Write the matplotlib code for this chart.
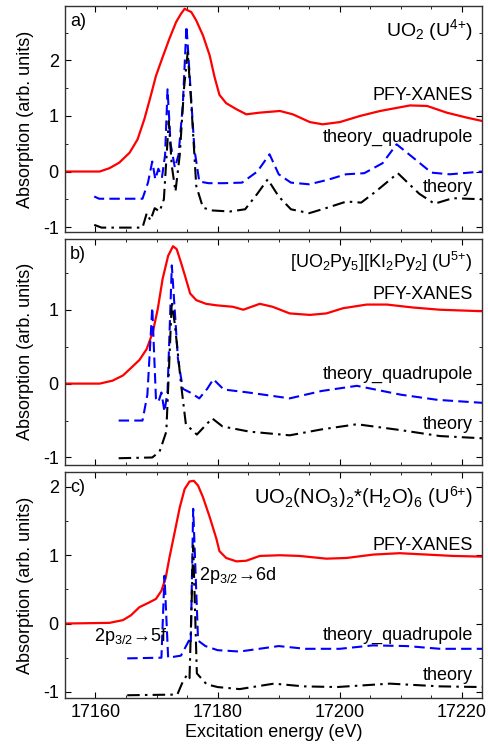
import matplotlib
matplotlib.use('Agg')

import matplotlib.pyplot as plt
from matplotlib.ticker import MultipleLocator

plt.rcParams['font.family'] = ['Liberation Sans', 'DejaVu Sans']
plt.rcParams['mathtext.fontset'] = 'custom'
plt.rcParams['mathtext.rm'] = 'Liberation Sans'
plt.rcParams['mathtext.it'] = 'Liberation Sans:italic'
plt.rcParams['axes.unicode_minus'] = False

# --- panel a) UO2 ---
a_pfy_e = [17155, 17160.7, 17162.3, 17163.9, 17165.6, 17166.9, 17168.0, 17168.9, 17169.9, 17171.0,
           17172.1, 17173.2, 17174.0, 17174.6, 17175.7, 17176.5, 17177.6, 17178.7, 17179.5, 17180.3,
           17181.4, 17183.1, 17184.7, 17186.9, 17190.2, 17192.3, 17195.1, 17197.2, 17200.0, 17203.3,
           17206.6, 17211.5, 17214.3, 17217.5, 17220.8, 17223.3]
a_pfy = [0, 0, 0.06, 0.16, 0.34, 0.58, 0.94, 1.3, 1.72, 2.06,
         2.39, 2.69, 2.84, 2.93, 2.87, 2.72, 2.45, 2.09, 1.7, 1.38,
         1.23, 1.12, 1.03, 1.06, 1.09, 1.03, 0.89, 0.85, 0.89, 1.0,
         1.09, 1.19, 1.18, 1.06, 0.97, 0.91]
a_quad_e = [17159.8, 17160.6, 17167.7, 17168.6, 17169.3, 17169.8, 17170.3, 17170.9, 17171.4, 17171.8,
            17172.3, 17173.0, 17173.6, 17174.3, 17174.9, 17175.5, 17176.2, 17177.0, 17178.5, 17181,
            17184, 17186.5, 17188.5, 17190.0, 17192, 17195, 17198, 17201, 17204, 17207,
            17209.3, 17212, 17215, 17218, 17223.3]
a_quad = [-0.45, -0.49, -0.49, -0.2, 0.18, -0.14, 0.05, -0.1, 0.3, 1.48,
          0.5, 0.07, 0.3, 1.2, 2.62, 1.6, 0.40, -0.18, -0.21, -0.21,
          -0.2, 0.0, 0.31, -0.05, -0.2, -0.23, -0.15, -0.05, -0.03, 0.15,
          0.49, 0.25, -0.02, -0.05, 0.0]
a_th_e = [17159.8, 17161, 17167.7, 17168.4, 17169.0, 17169.7, 17170.5, 17171.2, 17172.0, 17172.5,
          17173.1, 17173.8, 17174.5, 17175.1, 17175.7, 17176.5, 17177.6, 17179, 17182, 17184.5,
          17186.5, 17188.2, 17190, 17192, 17195, 17198, 17201.1, 17203.5, 17206, 17209.5,
          17213, 17215.5, 17218.5, 17223.3]
a_th = [-0.96, -1.01, -1.01, -0.75, -0.88, -0.66, -0.72, -0.5, 0.91, 0.1,
        -0.36, 0.3, 1.5, 2.15, 1.2, -0.26, -0.65, -0.70, -0.72, -0.68,
        -0.4, -0.14, -0.45, -0.68, -0.75, -0.65, -0.54, -0.56, -0.35, -0.03,
        -0.4, -0.58, -0.48, -0.5]

# --- panel b) [UO2Py5][KI2Py2] ---
b_pfy_e = [17155, 17160.7, 17162.8, 17164.5, 17165.8, 17167.2, 17168.4, 17169.4, 17170.2, 17171.0,
           17171.9, 17172.7, 17173.3, 17174.0, 17174.8, 17175.5, 17176.5, 17178.1, 17179.8, 17182.5,
           17184.2, 17186.9, 17189.0, 17191.8, 17195.1, 17197.8, 17200.5, 17204.4, 17207.7, 17212.0,
           17216.4, 17223.3]
b_pfy = [0, 0, 0.04, 0.11, 0.21, 0.32, 0.47, 0.70, 1.01, 1.42,
         1.73, 1.86, 1.82, 1.64, 1.42, 1.22, 1.13, 1.08, 1.06, 1.04,
         1.0, 1.08, 1.04, 0.95, 0.93, 0.95, 1.02, 1.07, 1.07, 1.03,
         1.0, 0.98]
b_quad_e = [17163.8, 17167.7, 17168.5, 17169.3, 17169.9, 17170.3, 17170.8, 17171.3, 17171.8, 17172.5,
            17173.5, 17174.3, 17175.5, 17177, 17178.3, 17179.3, 17181, 17185, 17191.8, 17197,
            17202.8, 17210, 17216, 17223.3]
b_quad = [-0.5, -0.5, -0.15, 1.03, -0.2, -0.25, -0.12, -0.38, -0.11, 1.6,
          0.34, -0.07, -0.12, -0.2, -0.07, 0.06, -0.08, -0.12, -0.2, -0.1,
          -0.03, -0.15, -0.22, -0.26]
b_th_e = [17163.8, 17169.3, 17170.5, 17171.6, 17172.5, 17173.0, 17174.0, 17174.8, 17176.6, 17179.1,
          17180.8, 17185.2, 17191.8, 17197, 17202.8, 17210, 17216.4, 17223.3]
b_th = [-1.01, -1.0, -0.92, -0.65, 1.11, 0.8, 0.0, -0.55, -0.69, -0.47,
        -0.58, -0.65, -0.7, -0.62, -0.55, -0.63, -0.71, -0.74]

# --- panel c) UO2(NO3)2*(H2O)6 ---
c_pfy_e = [17155, 17162.3, 17164.5, 17165.8, 17167.2, 17168.6, 17169.9, 17170.8, 17171.5, 17172.1,
           17173.0, 17173.8, 17174.6, 17175.4, 17176.1, 17176.8, 17177.6, 17178.7, 17179.8, 17180.3,
           17181.4, 17183.1, 17184.7, 17186.9, 17190.2, 17193.4, 17197.8, 17201.1, 17205.5, 17209.8,
           17214.2, 17218.5, 17223.3]
c_pfy = [0, 0.01, 0.05, 0.12, 0.24, 0.3, 0.36, 0.48, 0.67, 0.96,
         1.35, 1.7, 1.97, 2.08, 2.09, 2.02, 1.85, 1.56, 1.24, 1.06,
         0.96, 0.91, 0.92, 0.99, 1.0, 0.99, 0.95, 0.96, 1.01, 1.03,
         1.01, 0.99, 0.98]
c_quad_e = [17165.2, 17170.8, 17171.3, 17171.9, 17174, 17175.3, 17175.6, 17176.0, 17176.8, 17178,
            17180, 17183.6, 17190, 17194.4, 17200, 17205.4, 17211, 17216.4, 17223.3]
c_quad = [-0.51, -0.5, 0.7, -0.5, -0.47, -0.25, -0.3, 1.68, -0.25, -0.33,
          -0.39, -0.41, -0.33, -0.37, -0.37, -0.32, -0.33, -0.37, -0.37]
c_th_e = [17165.2, 17173.4, 17174.3, 17175.0, 17175.4, 17176.0, 17176.6, 17178.2, 17180, 17183.6,
          17189.2, 17194.1, 17199.5, 17208.2, 17216.4, 17223.3]
c_th = [-1.05, -1.04, -0.85, -0.75, -0.8, 1.14, -0.73, -0.89, -0.93, -0.96,
        -0.88, -0.92, -0.93, -0.88, -0.92, -0.93]

panel_tags = ['a)', 'b)', 'c)']
sample_names = [r'UO$_2$ (U$^{4{+}}$)',
                r'[UO$_2$Py$_5$][KI$_2$Py$_2$] (U$^{5{+}}$)',
                r'UO$_2$(NO$_3$)$_2$*(H$_2$O)$_6$ (U$^{6{+}}$)']
name_fs = [14, 13, 14.5]
series_names = ['PFY-XANES', 'theory_quadrupole', 'theory']

ylims = [(-1.09, 2.98), (-1.1, 1.96), (-1.09, 2.22)]
name_y = [2.55, 1.65, 1.85]
label_y = [(1.37, 0.61, -0.29), (1.2, 0.12, -0.55), (1.15, -0.18, -0.76)]

data = [
    (a_pfy_e, a_pfy, a_quad_e, a_quad, a_th_e, a_th),
    (b_pfy_e, b_pfy, b_quad_e, b_quad, b_th_e, b_th),
    (c_pfy_e, c_pfy, c_quad_e, c_quad, c_th_e, c_th),
]

fig = plt.figure(figsize=(4.88, 7.51), dpi=100)
bottoms = [0.691, 0.381, 0.0706]
fs = 13

for i in range(3):
    ax = fig.add_axes([0.133, bottoms[i], 0.855, 0.301])
    pe, pv, qe, qv, te, tv = data[i]
    ax.plot(pe, pv, color='red', lw=1.6)
    ax.plot(qe, qv, color='blue', lw=1.5, linestyle=(0, (5, 2.5)))
    ax.plot(te, tv, color='black', lw=1.5, linestyle=(0, (6, 2.5, 1.2, 2.5)))

    ax.set_xlim(17155, 17223.3)
    ax.set_ylim(*ylims[i])
    ax.xaxis.set_major_locator(MultipleLocator(20))
    ax.xaxis.set_minor_locator(MultipleLocator(5))
    ax.yaxis.set_major_locator(MultipleLocator(1))
    ax.yaxis.set_minor_locator(MultipleLocator(0.5))
    ax.tick_params(which='both', direction='in', top=True, right=True, labelsize=fs)
    ax.tick_params(which='major', length=4, pad=4.5)
    ax.tick_params(which='minor', length=2.5)
    for sp in ax.spines.values():
        sp.set_linewidth(1.0)
        sp.set_color('#333333')
    if i < 2:
        ax.tick_params(labelbottom=False)
    else:
        ax.set_xlabel('Excitation energy (eV)', fontsize=fs, labelpad=2)
    ax.set_ylabel('Absorption (arb. units)', fontsize=fs, labelpad=6)

    ax.text(0.012, 0.97, panel_tags[i], transform=ax.transAxes, fontsize=fs,
            ha='left', va='top')
    ax.text(17221.8, name_y[i], sample_names[i], fontsize=name_fs[i], ha='right', va='center')
    for name, yy in zip(series_names, label_y[i]):
        ax.text(17221.8, yy, name, fontsize=fs, ha='right', va='center')

    if i == 2:
        ax.text(17159.8, -0.19, r'2p$_{3/2}$→5f', fontsize=fs, ha='left', va='center')
        ax.text(17177.0, 0.7, r'2p$_{3/2}$→6d', fontsize=fs, ha='left', va='center')

fig.savefig('out.png', dpi=100)
